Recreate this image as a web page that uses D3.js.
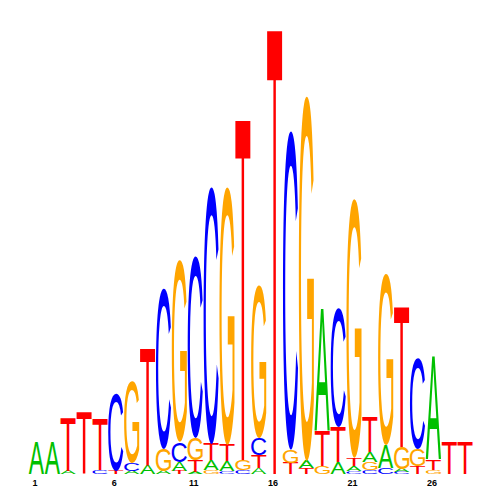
<!DOCTYPE html>
<html><head><meta charset="utf-8">
<script src="https://cdn.jsdelivr.net/npm/d3@7"></script>
<style>html,body{margin:0;padding:0;background:#fff;}svg{display:block;}</style>
</head><body>
<script>
const positions = d3.range(1, 29);
const tickLabels = [1, 6, 11, 16, 21, 26];
const letters = ["A", "C", "G", "T"];
const colors = {A: "#00c000", C: "#0000ff", G: "#ffa500", T: "#ff0000"};
const bitsA = [0.144,0.144,0.014,0,0,0,0.014,0.041,0.014,0.041,0.009,0.045,0.045,0,0.027,0,0,0.032,0.550,0.054,0.023,0.045,0.104,0.014,0,0.464,0,0];
const bitsC = [0,0,0,0,0.018,0.351,0.036,0,0.725,0.090,0.820,1.158,0.014,0.018,0.077,0,1.437,0,0,0.536,0.014,0.018,0.027,0.009,0.410,0,0,0];
const bitsG = [0,0,0,0,0,0,0.369,0,0.099,0.820,0.099,0.018,1.162,0.045,0.689,0,0.059,1.644,0.036,0,1.167,0.036,0.770,0.099,0.077,0.018,0,0];
const bitsT = [0,0,0.239,0.275,0.230,0.014,0,0.527,0,0.014,0.054,0.072,0.072,1.532,0.059,2.0,0.050,0.027,0.153,0.158,0.036,0.158,0,0.626,0.036,0.045,0.144,0.144];
const bitsBy = {A: bitsA, C: bitsC, G: bitsG, T: bitsT};

const W = 500, H = 500;
const x = d3.scaleBand().domain(positions).range([28.5, 473.1]).paddingInner(0.05).paddingOuter(0.025);
const y = d3.scaleLinear().domain([0, 2]).range([474, 30]);

const FAMILY = "'Liberation Sans', Arial, Helvetica, sans-serif";
const FS = 200;
const FONT = `normal ${FS}px ${FAMILY}`;

// measure actual ink bounds of each glyph by scanning a canvas
const cv = document.createElement("canvas");
cv.width = 400; cv.height = 400;
const ctx = cv.getContext("2d");
const metrics = {};
letters.forEach(l => {
  ctx.clearRect(0, 0, 400, 400);
  ctx.font = FONT;
  ctx.fillStyle = "#000";
  ctx.textBaseline = "alphabetic";
  const ox = 100, oy = 300;
  ctx.fillText(l, ox, oy);
  const data = ctx.getImageData(0, 0, 400, 400).data;
  let minX = 400, maxX = -1, minY = 400, maxY = -1;
  for (let yy = 0; yy < 400; yy++) for (let xx = 0; xx < 400; xx++) {
    if (data[(yy * 400 + xx) * 4 + 3] > 110) {
      if (xx < minX) minX = xx; if (xx > maxX) maxX = xx;
      if (yy < minY) minY = yy; if (yy > maxY) maxY = yy;
    }
  }
  metrics[l] = {L: ox - minX, R: maxX + 1 - ox, A: oy - minY, D: maxY + 1 - oy};
});

const svg = d3.select("body").append("svg").attr("width", W).attr("height", H);

const stacks = positions.map((p, i) => {
  const items = letters.map(l => ({l, v: bitsBy[l][i]})).filter(d => d.v > 0).sort((a, b) => a.v - b.v);
  let acc = 0;
  items.forEach(d => { d.y0 = acc; acc += d.v; d.y1 = acc; d.pos = p; });
  return items;
});

const g = svg.append("g");
stacks.forEach(items => {
  items.forEach(d => {
    const m = metrics[d.l];
    const cw = x.bandwidth(), x0 = x(d.pos);
    const top = y(d.y1), ch = y(d.y0) - y(d.y1);
    const sx = cw / (m.L + m.R), sy = ch / (m.A + m.D);
    g.append("text")
      .attr("transform", `translate(${x0 + m.L * sx},${top + m.A * sy}) scale(${sx},${sy})`)
      .attr("font-family", FAMILY)
      .attr("font-size", FS)
      .attr("font-weight", "normal")
      .attr("fill", colors[d.l])
      .text(d.l);
  });
});

svg.append("g").selectAll("text").data(tickLabels).join("text")
  .attr("x", d => x(d) + x.bandwidth() / 2 - 1.5)
  .attr("y", 486)
  .attr("text-anchor", "middle")
  .attr("font-family", FAMILY)
  .attr("font-size", 9)
  .attr("font-weight", "bold")
  .attr("fill", "#000")
  .text(d => d);
</script>
</body></html>
